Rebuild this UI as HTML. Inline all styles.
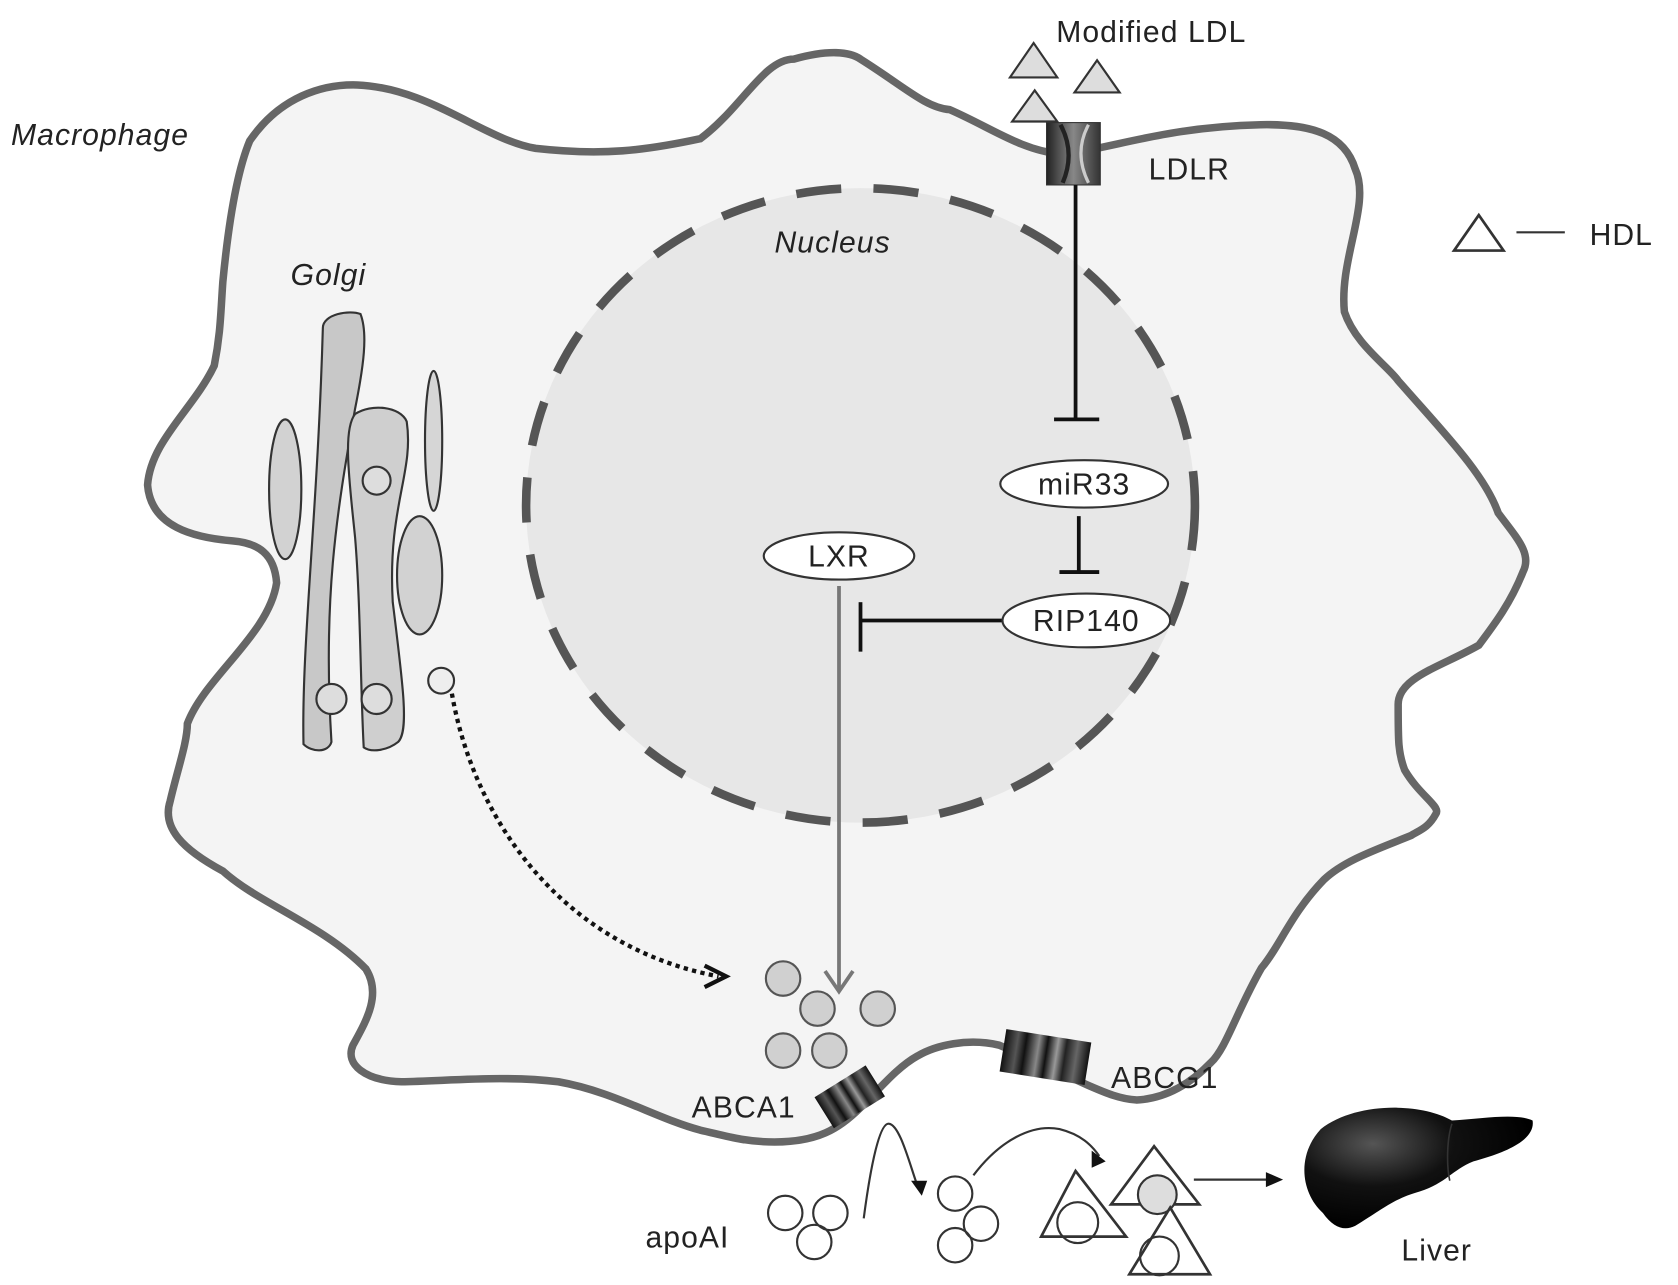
<!DOCTYPE html>
<html><head><meta charset="utf-8"><style>
html,body{margin:0;padding:0;background:#fff}
svg{display:block}
text{font-family:"Liberation Sans",Arial,sans-serif;fill:#222;font-size:28px;letter-spacing:1px}
</style></head><body>
<svg width="1678" height="1285" viewBox="0 0 1560 1195" xmlns="http://www.w3.org/2000/svg">
<defs>
<linearGradient id="tg" x1="0" x2="1">
<stop offset="0" stop-color="#111"/><stop offset=".15" stop-color="#555"/><stop offset=".25" stop-color="#111"/><stop offset=".4" stop-color="#888"/><stop offset=".5" stop-color="#111"/><stop offset=".62" stop-color="#999"/><stop offset=".72" stop-color="#222"/><stop offset=".85" stop-color="#666"/><stop offset="1" stop-color="#111"/>
</linearGradient>
<linearGradient id="lg" x1="0" x2="1"><stop offset="0" stop-color="#222"/><stop offset=".5" stop-color="#888"/><stop offset="1" stop-color="#333"/></linearGradient>
<radialGradient id="liv" cx=".3" cy=".3" r=".7"><stop offset="0" stop-color="#555"/><stop offset=".5" stop-color="#111"/><stop offset="1" stop-color="#000"/></radialGradient>
</defs>
<text x="10" y="135" font-style="italic">Macrophage</text>
<!-- cell -->
<path d="M232,131 C260,90 300,78 332,79 C400,82 450,130 498,138 C560,145 600,140 651,129 C690,100 710,55 738,55 C770,46 790,48 800,55 C840,80 860,100 883,102 C920,118 950,140 985,143 C1030,140 1080,118 1172,116 C1220,115 1250,125 1260,157 C1275,190 1245,240 1250,290 C1260,320 1290,340 1300,354 C1340,400 1380,440 1393,477 C1410,500 1425,515 1416,532 C1405,560 1390,580 1375,600 C1340,620 1300,630 1300,655 C1300,690 1300,700 1306,716 C1320,740 1340,750 1335,757 C1328,770 1320,772 1312,777 C1280,790 1250,800 1231,818 C1200,850 1190,880 1173,900 C1150,940 1140,975 1126,988 C1100,1015 1075,1022 1057,1023 C1040,1022 1025,1015 1011,1009 C980,995 960,985 929,972 C900,965 870,972 853,982 C835,992 820,1010 800,1030 C780,1050 760,1062 720,1062 C690,1062 670,1055 651,1051 C610,1040 570,1015 519,1006 C470,1000 420,1005 373,1006 C340,1005 320,990 328,972 C340,950 355,925 340,901 C300,860 240,840 207,810 C170,790 150,770 158,745 C165,715 174,690 174,673 C190,630 250,590 257,542 C255,515 240,505 216,503 C180,500 140,490 137,451 C140,410 180,380 199,340 C205,310 205,290 207,262 C212,210 220,160 232,131 Z" fill="#f4f4f4" stroke="#666" stroke-width="7"/>
<!-- nucleus -->
<ellipse cx="800" cy="470" rx="311" ry="295" fill="#e7e7e7" stroke="#555" stroke-width="8" stroke-dasharray="42 30"/>
<text x="720" y="235" font-style="italic">Nucleus</text>
<!-- golgi -->
<text x="270" y="265" font-style="italic">Golgi</text>
<path d="M300,305 C300,292 325,288 335,292 C342,310 338,340 330,380 C312,480 300,560 308,690 C305,700 290,700 282,692 C280,600 295,480 300,305 Z" fill="#c8c8c8" stroke="#333" stroke-width="2"/>
<path d="M330,385 C345,375 372,378 378,392 C385,440 360,470 365,560 C375,640 380,680 370,690 C360,698 345,700 338,695 C335,640 335,560 330,500 C325,450 318,400 330,385 Z" fill="#cfcfcf" stroke="#333" stroke-width="2"/>
<ellipse cx="265" cy="455" rx="15" ry="65" fill="#d2d2d2" stroke="#333" stroke-width="2"/>
<ellipse cx="403" cy="410" rx="8" ry="65" fill="#d6d6d6" stroke="#333" stroke-width="2"/>
<ellipse cx="390" cy="535" rx="21" ry="55" fill="#d2d2d2" stroke="#333" stroke-width="2"/>
<circle cx="350" cy="447" r="13" fill="#ddd" stroke="#333" stroke-width="2"/>
<circle cx="308" cy="650" r="14" fill="#ddd" stroke="#333" stroke-width="2"/>
<circle cx="350" cy="650" r="14" fill="#ddd" stroke="#333" stroke-width="2"/>
<circle cx="410" cy="633" r="12" fill="#eee" stroke="#333" stroke-width="2"/>
<!-- dotted arrow -->
<path d="M420,645 C440,760 520,880 668,908" fill="none" stroke="#111" stroke-width="4" stroke-dasharray="4 4"/>
<path d="M655,898 L675,908 L655,918" fill="none" stroke="#111" stroke-width="4"/>
<!-- modified LDL -->
<text x="982" y="39">Modified LDL</text>
<polygon points="961,40 939,72 983,72" fill="#ddd" stroke="#333" stroke-width="2"/>
<polygon points="1020,56 999,86 1041,86" fill="#ddd" stroke="#333" stroke-width="2"/>
<polygon points="962,84 941,113 983,113" fill="#ddd" stroke="#333" stroke-width="2"/>
<!-- LDLR -->
<rect x="973" y="114" width="50" height="58" fill="url(#lg)" stroke="#333" stroke-width="1"/>
<path d="M986,116 Q1000,142 988,170" fill="none" stroke="#222" stroke-width="4"/>
<path d="M1012,116 Q998,142 1012,170" fill="none" stroke="#ccc" stroke-width="3"/>
<text x="1068" y="167">LDLR</text>
<!-- HDL legend -->
<polygon points="1375,200 1352,233 1398,233" fill="none" stroke="#333" stroke-width="2.5"/>
<line x1="1410" y1="216" x2="1455" y2="216" stroke="#333" stroke-width="2"/>
<text x="1478" y="228">HDL</text>
<!-- inhibition lines -->
<g stroke="#111" stroke-width="3.5" fill="none">
<line x1="1000" y1="172" x2="1000" y2="390"/><line x1="980" y1="390" x2="1022" y2="390"/>
<line x1="1003" y1="480" x2="1003" y2="532"/><line x1="985" y1="532" x2="1022" y2="532"/>
<line x1="932" y1="577" x2="800" y2="577"/><line x1="800" y1="560" x2="800" y2="606"/>
</g>
<ellipse cx="1008" cy="450" rx="78" ry="22" fill="#fff" stroke="#333" stroke-width="2"/>
<text x="1008" y="460" text-anchor="middle">miR33</text>
<ellipse cx="1010" cy="577" rx="78" ry="25" fill="#fff" stroke="#333" stroke-width="2"/>
<text x="1010" y="587" text-anchor="middle">RIP140</text>
<ellipse cx="780" cy="517" rx="70" ry="22" fill="#fff" stroke="#333" stroke-width="2"/>
<text x="780" y="527" text-anchor="middle">LXR</text>
<!-- LXR arrow -->
<line x1="780" y1="545" x2="780" y2="920" stroke="#777" stroke-width="3.5"/>
<path d="M767,903 L780,922 L793,903" fill="none" stroke="#777" stroke-width="3.5"/>
<!-- vesicles -->
<g fill="#d0d0d0" stroke="#555" stroke-width="2">
<circle cx="728" cy="910" r="16"/><circle cx="760" cy="938" r="16"/><circle cx="816" cy="938" r="16"/><circle cx="728" cy="977" r="16"/><circle cx="771" cy="977" r="16"/>
</g>
<!-- transporters -->
<rect x="-28" y="-17" width="56" height="34" fill="url(#tg)" transform="translate(790,1020) rotate(-32)"/>
<rect x="-40" y="-20" width="80" height="40" fill="url(#tg)" transform="translate(972,983) rotate(9)"/>
<text x="643" y="1039">ABCA1</text>
<text x="1033" y="1012">ABCG1</text>
<!-- bottom -->
<text x="600" y="1160">apoAI</text>
<g fill="none" stroke="#333" stroke-width="2">
<circle cx="730" cy="1128" r="16"/><circle cx="772" cy="1128" r="16"/><circle cx="757" cy="1155" r="16"/>
<circle cx="888" cy="1110" r="16"/><circle cx="912" cy="1138" r="16"/><circle cx="888" cy="1158" r="16"/>
<path d="M803,1133 C810,1080 818,1045 826,1045 C836,1045 845,1080 852,1100"/>
<path d="M905,1093 C930,1060 960,1045 985,1050 C1005,1055 1015,1065 1022,1075"/>
<polygon points="1000,1089 968,1150 1047,1150" stroke-width="2.5"/>
<circle cx="1002" cy="1137" r="19"/>
<polygon points="1073,1066 1033,1120 1115,1120" stroke-width="2.5"/>
<circle cx="1076" cy="1111" r="18" fill="#ddd"/>
<polygon points="1088,1123 1050,1185 1125,1185" stroke-width="2.5"/>
<circle cx="1078" cy="1168" r="18"/>
<line x1="1110" y1="1097" x2="1180" y2="1097"/>
</g>
<polygon points="847,1098 862,1098 857,1112" fill="#111"/>
<polygon points="1015,1070 1028,1080 1015,1086" fill="#111"/>
<polygon points="1177,1090 1193,1097 1177,1104" fill="#111"/>
<!-- liver -->
<path d="M1228,1050 C1260,1025 1320,1025 1350,1042 C1380,1040 1410,1035 1425,1042 C1428,1060 1400,1072 1370,1080 C1350,1088 1345,1100 1320,1108 C1295,1115 1285,1125 1260,1140 C1250,1145 1240,1142 1230,1128 C1210,1110 1205,1075 1228,1050 Z" fill="url(#liv)"/>
<path d="M1350,1045 C1345,1060 1345,1085 1348,1098" fill="none" stroke="#333" stroke-width="1.5"/>
<text x="1303" y="1172">Liver</text>
</svg>
</body></html>
